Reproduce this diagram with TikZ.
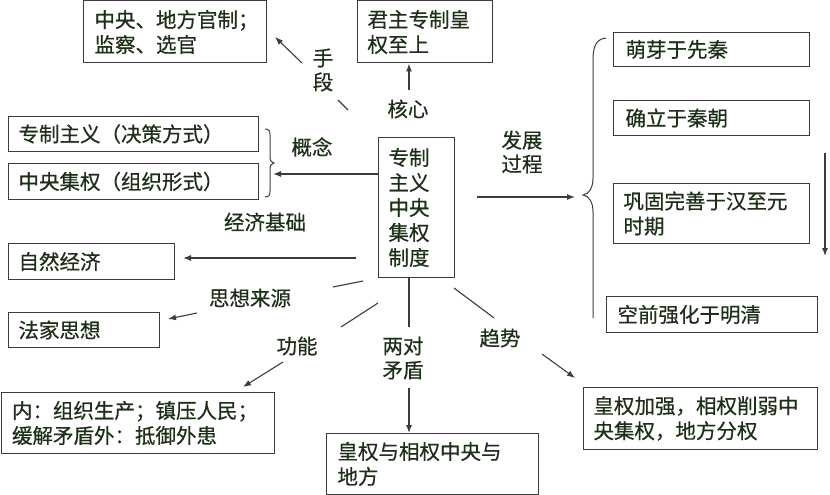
\documentclass[tikz,border=0pt]{standalone}
\usepackage{fontspec}
\newfontfamily\cjk[FakeBold=0.5]{Noto Sans CJK SC}
\usetikzlibrary{arrows.meta}
\definecolor{txt}{RGB}{28,48,24}
\definecolor{ln}{RGB}{60,60,60}
\begin{document}
\begin{tikzpicture}[x=1pt,y=-1pt,
  box/.style={draw=ln, line width=1pt, inner xsep=10pt, inner ysep=0pt, align=left, anchor=north west, text=txt, font=\cjk\fontsize{20.5}{25}\selectfont},
  lbl/.style={text=txt, align=center, inner sep=0pt, font=\cjk\fontsize{20.5}{24}\selectfont},
  con/.style={draw=ln, line width=1.1pt},
  arr/.style={con, -{Latex[length=8pt,width=6pt]}}]
\useasboundingbox[fill=white] (0,0) rectangle (830,495);
% boxes
\node[box, minimum width=183pt, text width=161pt, minimum height=62pt, inner xsep=11pt] (b1) at (83,0.5) {中央、地方官制；\\监察、选官};
\node[box, minimum width=135pt, text width=115pt, minimum height=62pt] (b2) at (357,0.5) {君主专制皇\\权至上};
\node[box, minimum width=250pt, text width=230pt, minimum height=35pt] (b3) at (8,116) {专制主义（决策方式）};
\node[box, minimum width=250pt, text width=230pt, minimum height=36pt] (b4) at (8,163) {中央集权（组织形式）};
\node[box, minimum width=76pt, text width=56pt, minimum height=140pt] (c) at (378,137) {专制\\主义\\中央\\集权\\制度};
\node[box, minimum width=166pt, text width=146pt, minimum height=36pt] (b5) at (8,243) {自然经济};
\node[box, minimum width=151pt, text width=131pt, minimum height=35pt] (b6) at (8,312) {法家思想};
\node[box, minimum width=273pt, text width=251pt, minimum height=61pt, inner xsep=11pt] (b7) at (0.5,392) {内：组织生产；镇压人民；\\缓解矛盾外：抵御外患};
\node[box, minimum width=212pt, text width=190pt, minimum height=61pt, inner xsep=11pt] (b8) at (326,433) {皇权与相权中央与\\地方};
\node[box, minimum width=234pt, text width=214pt, minimum height=62pt] (b9) at (583,387) {皇权加强，相权削弱中\\央集权，地方分权};
\node[box, minimum width=196pt, text width=172pt, minimum height=34pt, inner xsep=12pt] (r1) at (613,32) {萌芽于先秦};
\node[box, minimum width=196pt, text width=172pt, minimum height=35pt, inner xsep=12pt] (r2) at (613,100) {确立于秦朝};
\node[box, minimum width=196pt, text width=176pt, minimum height=60pt] (r3) at (613,183) {巩固完善于汉至元\\时期};
\node[box, minimum width=211pt, text width=189pt, minimum height=36pt, inner xsep=11pt] (r4) at (606,296) {空前强化于明清};
% labels
\node[lbl] (l1) at (323,70) {手\\段};
\node[lbl] (l2) at (408,109) {核心};
\node[lbl] (l3) at (312,147) {概念};
\node[lbl] (l4) at (522,152) {发展\\过程};
\node[lbl] (l5) at (265,222) {经济基础};
\node[lbl] (l6) at (250,298) {思想来源};
\node[lbl] (l7) at (297,346) {功能};
\node[lbl] (l8) at (403,358) {两对\\矛盾};
\node[lbl] (l9) at (500,338) {趋势};
% connector points
\coordinate (s1a) at (348,110); \coordinate (s1b) at (338,100);
\coordinate (s1c) at (302,63);  \coordinate (s1d) at (275,37);
\coordinate (s2a) at (409,90);
\coordinate (s3a) at (273,174);
\coordinate (s4a) at (477,197); \coordinate (s4b) at (575,197);
\coordinate (s5a) at (825,153); \coordinate (s5b) at (825,256);
\coordinate (s6a) at (356,258); \coordinate (s6b) at (183,258);
\coordinate (s7a) at (363,281); \coordinate (s7b) at (333,287);
\coordinate (s7c) at (197,313); \coordinate (s7d) at (168,319);
\coordinate (s8a) at (378,303); \coordinate (s8b) at (341,327);
\coordinate (s8c) at (283,362); \coordinate (s8d) at (243,387);
\coordinate (s9a) at (409,327); \coordinate (s9b) at (409,388);
\coordinate (s10a) at (454,288); \coordinate (s10b) at (494,318);
\coordinate (s10c) at (542,354); \coordinate (s10d) at (575,378);
% connectors
\draw[con] (s1a) -- (s1b);
\draw[arr] (s1c) -- (s1d);
\draw[arr] (s2a) -- (s2a |- b2.south);
\draw[arr] (s3a -| c.west) -- (s3a);
\draw[arr] (s4a) -- (s4b);
\draw[arr] (s5a) -- (s5b);
\draw[arr] (s6a) -- (s6b);
\draw[con] (s7a) -- (s7b);
\draw[arr] (s7c) -- (s7d);
\draw[con] (s8a) -- (s8b);
\draw[arr] (s8c) -- (s8d);
\draw[con] (s9a |- c.south) -- (s9a);
\draw[arr] (s9b) -- (s9b |- b8.north);
\draw[con] (s10a) -- (s10b);
\draw[arr] (s10c) -- (s10d);
% braces
\draw[con, line width=1pt] (265,129) .. controls (269,129) and (270,131) .. (270,135) -- (270,157)
  .. controls (270,161) and (272,163) .. (274,163) .. controls (272,163) and (270,165) .. (270,169)
  -- (270,191) .. controls (270,195) and (269,197) .. (265,197);
\draw[con, line width=1pt] (606,38) .. controls (597,39) and (593,45) .. (593,60) -- (593,178)
  .. controls (593,188) and (589,194) .. (583,195) .. controls (589,196) and (593,202) .. (593,212)
  -- (593,318);
\end{tikzpicture}
\end{document}
